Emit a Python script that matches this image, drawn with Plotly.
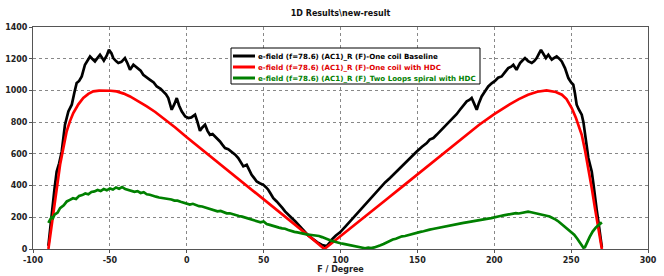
import plotly.graph_objects as go

# ---- data ----
black_x = [-90, -87.8, -86, -84.6, -83, -81.3, -79.2, -77, -74.8, -73, -71.6, -70, -68.3, -66.2, -64.5,
           -62.9, -61.5, -59.7, -58, -56.4, -55, -53.9, -52, -50.6, -49, -47.8, -46, -44.5, -42.5, -40.2,
           -38.5, -36.9, -34.7, -33, -31.5, -30, -28.3, -26, -23.9, -21.5, -19.5, -17, -15.2, -13.5, -12,
           -11, -9.8, -8, -6.5, -5, -3.3, -1, 1, 3, 5.4, 7, 8.6, 10, 11.9, 13.5, 15.1, 16.8, 18.4, 20,
           21.6, 23, 24.9, 27, 29.2, 31.5, 33.5, 35, 36.8, 39, 40.5, 42.2, 44, 45.5, 47.5, 49.8, 51.5, 53,
           54.5, 56.3, 58.5, 60.7, 62.3, 63.9, 66, 68.3, 70.5, 72.6, 75, 76.9, 79, 81.3, 83.5, 85.6, 88,
           91, 93, 94.3, 97, 99.7, 103, 106.2, 109.5, 112.7, 116, 119.2, 122.5, 125.7, 129, 132.2, 135.5,
           138.7, 142, 145.2, 147.5, 149.6, 153, 156.1, 158, 160.4, 162.5, 164.7, 167, 169.1, 171, 173.4,
           175.5, 177.7, 180, 182.1, 183.8, 185.3, 187, 188.6, 190, 191.8, 194, 196.1, 198.3, 200.5, 202.5,
           204.8, 207, 209.1, 211, 212.4, 213.5, 214.5, 215.8, 216.8, 218.5, 220, 222, 224.4, 226, 227.6,
           229, 230.4, 232, 233.6, 235.2, 236.3, 237.4, 239, 240.6, 242.3, 243.9, 246, 248.2, 250, 251.4,
           252.5, 253.6, 255, 256.9, 258, 259, 260, 261.2, 262.3, 263.4, 264.5, 265.5, 266.6, 267.7, 268.5,
           269.4, 270]
black_y = [20, 237, 380, 489, 540, 615, 784, 868, 910, 990, 1047, 1060, 1088, 1162, 1190,
           1214, 1200, 1183, 1205, 1225, 1205, 1188, 1220, 1256, 1235, 1204, 1185, 1173, 1180, 1204,
           1170, 1130, 1162, 1150, 1141, 1125, 1099, 1085, 1067, 1050, 1025, 1010, 994, 975, 952,
           920, 878, 915, 952, 905, 868, 836, 826, 830, 847, 800, 745, 765, 784, 745, 720, 725, 710, 690,
           678, 660, 637, 630, 615, 595, 574, 550, 521, 531, 500, 468, 445, 426, 415, 405, 390, 374,
           350, 321, 300, 279, 258, 237, 215, 195, 175, 153, 125, 101, 85, 69, 52, 38, 25,
           18, 40, 59, 85, 105, 140, 174, 210, 248, 280, 311, 350, 385, 420, 448, 480,
           511, 545, 574, 600, 615, 645, 668, 690, 700, 720, 742, 765, 784, 800, 826,
           850, 878, 905, 931, 940, 952, 915, 878, 920, 962, 995, 1025, 1045, 1060, 1080,
           1088, 1115, 1141, 1150, 1162, 1145, 1130, 1155, 1173, 1190, 1204, 1185, 1173, 1185, 1204,
           1230, 1256, 1230, 1204, 1225, 1210, 1194, 1205, 1215, 1200, 1183, 1141, 1078, 1050, 1036,
           980, 910, 880, 847, 800, 742, 660, 574, 530, 489, 410, 321, 250, 174, 110,
           48, 10]

red_x = [-90, -88.5, -86.8, -84.5, -82.4, -80, -78.1, -76, -73.8, -70.5, -67.3, -64, -60.8, -57, -53.2,
         -49.5, -45.6, -41, -36.9, -31.5, -26, -20.5, -15.2, -7.5, 0, 10, 20, 30, 40, 50, 60, 70, 80, 89.5,
         100, 110, 120, 130, 140, 150, 160, 170, 180, 190, 200, 205, 210, 216, 222, 228, 234, 240, 244,
         247, 250.4, 253, 256.9, 259, 261.2, 263.5, 265.5, 268, 270]
red_y = [0, 110, 237, 395, 531, 650, 742, 805, 857, 912, 952, 978, 994, 999, 1000,
         998, 994, 980, 962, 932, 899, 864, 826, 766, 705, 627, 548, 470, 392, 315, 236, 157, 78, 0,
         80, 158, 236, 314, 392, 470, 548, 626, 704, 782, 851, 883, 912, 945, 973, 992, 1000, 990, 973,
         945, 889, 830, 720, 625, 510, 380, 258, 115, 0]

green_x = [-90, -89, -88, -87, -86, -84, -82.4, -80, -78, -76, -74, -72, -70, -68, -66, -64, -62, -60,
           -58, -56, -54, -52, -50, -48, -46, -44, -42, -40, -38, -36, -34, -32, -30, -28, -26, -24,
           -22, -20, -18, -16, -14, -12, -10, -8, -6, -4, -2, 0, 2, 4, 6, 8, 10, 12, 14, 16, 18, 20,
           22, 24, 26, 28, 30, 32, 34, 36, 38, 40, 42, 44, 46, 48, 50, 52, 54, 56, 58, 60, 62, 64, 66,
           68, 70, 72, 74, 76, 78, 80, 82, 84, 86, 88, 90, 92, 94, 96, 98, 100, 102, 104, 106, 108,
           110, 112, 114, 116, 118, 120, 122, 124, 126, 128, 130, 132, 134, 136, 138, 140, 142, 144,
           146, 148, 150, 152, 154, 156, 158, 160, 162, 164, 166, 168, 170, 172, 174, 176, 178, 180,
           182, 184, 186, 188, 190, 192, 194, 196, 198, 200, 202, 204, 206, 208, 210, 212, 214, 216,
           218, 220, 222, 224, 226, 228, 230, 232, 234, 236, 238, 240, 242, 244, 246, 248, 250, 252,
           254, 256, 257, 258, 259, 260, 262, 264, 266, 268, 270]
green_y = [165, 180, 200, 195, 216, 230, 258, 275, 300, 310, 320, 315, 335, 340, 350, 345, 360, 363,
           372, 365, 378, 370, 382, 375, 388, 380, 390, 378, 372, 368, 360, 365, 353, 358, 345, 342,
           338, 330, 325, 322, 318, 312, 312, 305, 305, 298, 292, 290, 280, 285, 275, 270, 268, 262,
           255, 250, 245, 238, 240, 232, 225, 225, 218, 215, 208, 204, 198, 190, 185, 180, 172, 168,
           174, 158, 152, 145, 142, 135, 130, 128, 120, 112, 108, 105, 100, 97, 92, 90, 88, 85, 82,
           75, 69, 60, 52, 45, 40, 36, 32, 28, 22, 18, 15, 10, 6, 5, 8, 6, 10, 15, 24, 32, 42, 52,
           60, 65, 75, 80, 82, 88, 90, 98, 103, 108, 112, 115, 122, 126, 130, 135, 139, 143, 148,
           153, 155, 160, 162, 165, 168, 172, 174, 178, 182, 185, 188, 192, 195, 198, 205, 208, 212,
           215, 220, 223, 226, 224, 227, 230, 236, 232, 228, 225, 222, 216, 210, 205, 196, 185, 172,
           155, 135, 120, 105, 90, 65, 35, 18, 8, 12, 35, 75, 110, 135, 152, 168]

series_names = ["e-field (f=78.6) (AC1)_R (F)-One coil Baseline",
                "e-field (f=78.6) (AC1)_R (F)-One coil with HDC",
                "e-field (f=78.6) (AC1)_R (F)_Two Loops spiral with HDC"]
series_colors = ["#000000", "#ff0000", "#008000"]
text_colors = ["#000000", "#e00000", "#008000"]

x_ticks = [-100, -50, 0, 50, 100, 150, 200, 250, 300]
y_ticks = [0, 200, 400, 600, 800, 1000, 1200, 1400]

title_text = "1D Results\\new-result"
x_title = "F / Degree"

W, H = 664, 276
L, R, T, B = 33, 16, 27, 27
PW, PH = W - L - R, H - T - B


def px_to_paper(px, py):
    return (px - L) / PW, (H - B - py) / PH


fig = go.Figure()
for xs, ys, name, col in zip([black_x, red_x, green_x], [black_y, red_y, green_y],
                             series_names, series_colors):
    fig.add_trace(go.Scatter(x=xs, y=ys, mode="lines", name=name,
                             line=dict(color=col, width=2.7), showlegend=False))

tick_font = dict(family="DejaVu Sans", size=8, color="#222222", weight="bold")

# custom legend box (compact, like the reference)
shapes = []
annotations = []
bx0, by0 = px_to_paper(231, 48)
bx1, by1 = px_to_paper(480, 84)
shapes.append(dict(type="rect", xref="paper", yref="paper", x0=bx0, x1=bx1, y0=by1, y1=by0,
                   line=dict(color="#000000", width=1), fillcolor="white", layer="above"))
for i, (name, col, tcol) in enumerate(zip(series_names, series_colors, text_colors)):
    py = 56 + i * 11
    lx0, ly = px_to_paper(233, py)
    lx1, _ = px_to_paper(255, py)
    shapes.append(dict(type="line", xref="paper", yref="paper", x0=lx0, x1=lx1, y0=ly, y1=ly,
                       line=dict(color=col, width=3), layer="above"))
    tx, _ = px_to_paper(256, py)
    annotations.append(dict(text=name, xref="paper", yref="paper", x=tx, y=ly,
                            xanchor="left", yanchor="middle", showarrow=False,
                            font=dict(family="DejaVu Sans", size=7.1, color=tcol, weight="bold")))

fig.update_layout(
    width=W, height=H,
    margin=dict(l=L, r=R, t=T, b=B, autoexpand=False),
    paper_bgcolor="white", plot_bgcolor="white",
    title=dict(text=title_text, x=0.5, xanchor="center", xref="paper",
               y=1 - 13 / H, yanchor="middle",
               font=dict(family="DejaVu Sans", size=8, color="#111111", weight="bold")),
    showlegend=False,
    shapes=shapes,
    annotations=annotations,
)
fig.update_xaxes(range=[-100, 300], tickvals=x_ticks, ticktext=[str(v) for v in x_ticks],
                 showgrid=True, gridcolor="#888888", griddash="dot", gridwidth=1,
                 zeroline=False, showline=True, linecolor="#555555", linewidth=1, mirror=True,
                 ticks="outside", ticklen=3, tickcolor="#555555", tickfont=tick_font,
                 automargin=False,
                 title=dict(text=x_title, font=tick_font, standoff=2))
fig.update_yaxes(range=[0, 1400], tickvals=y_ticks, ticktext=[str(v) for v in y_ticks],
                 showgrid=True, gridcolor="#888888", griddash="dot", gridwidth=1,
                 zeroline=False, showline=True, linecolor="#555555", linewidth=1, mirror=True,
                 ticks="outside", ticklen=3, tickcolor="#555555", tickfont=tick_font,
                 automargin=False)

fig.write_html("out.html", config={"displayModeBar": False},
               post_script="document.body.style.margin='0';document.body.style.padding='0';")
